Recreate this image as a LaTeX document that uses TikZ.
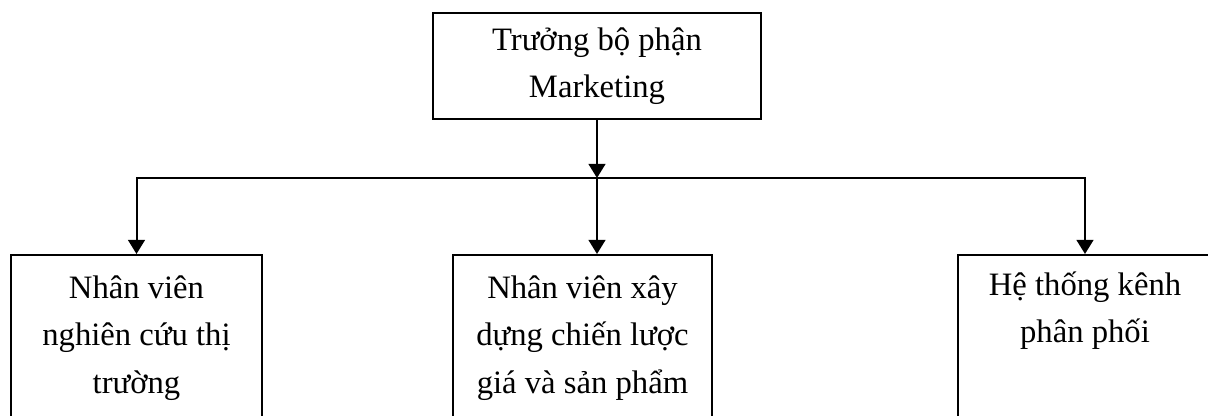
\documentclass[tikz,border=0pt]{standalone}
\usepackage{fontspec}
\setmainfont{Liberation Serif}
\usetikzlibrary{arrows.meta,positioning}

\begin{document}
\begin{tikzpicture}[
    x=0.75pt, y=-0.75pt,
    box/.style={draw, line width=1.5pt, align=center, inner sep=0pt,
      font=\fontsize{24.5pt}{35.5pt}\selectfont},
    headbox/.style={box, minimum width=246pt, minimum height=79.5pt},
    staff/.style={box, minimum height=124.5pt},
    arrow/.style={-{Triangle[width=12.5pt,length=10.5pt]}, line width=1.5pt}
  ]
  \useasboundingbox (0,0) rectangle (1208,416);
  \clip (0,0) rectangle (1208,416);

  % Main components
  \node[headbox] (head) at (597,66) {Trưởng bộ phận\\Marketing};
  \coordinate (bar) at (597,178);

  % Staff boxes
  \node[staff, minimum width=188.25pt] (research) at (136.5,338) {Nhân viên\\nghiên cứu thị\\trường};
  \node[staff, minimum width=194.25pt] (pricing) at (582.5,338) {Nhân viên xây\\dựng chiến lược\\giá và sản phẩm};
  \node[staff, minimum width=190.5pt] (channel) at (1085,338) {Hệ thống kênh\\phân phối\\\strut};

  % Connections
  \draw[arrow] (head) -- (bar);
  \draw[arrow] (bar) -- (pricing.north -| bar);
  \draw[arrow] (bar) -| (research.north);
  \draw[arrow] (bar) -| (channel.north);

\end{tikzpicture}
\end{document}
